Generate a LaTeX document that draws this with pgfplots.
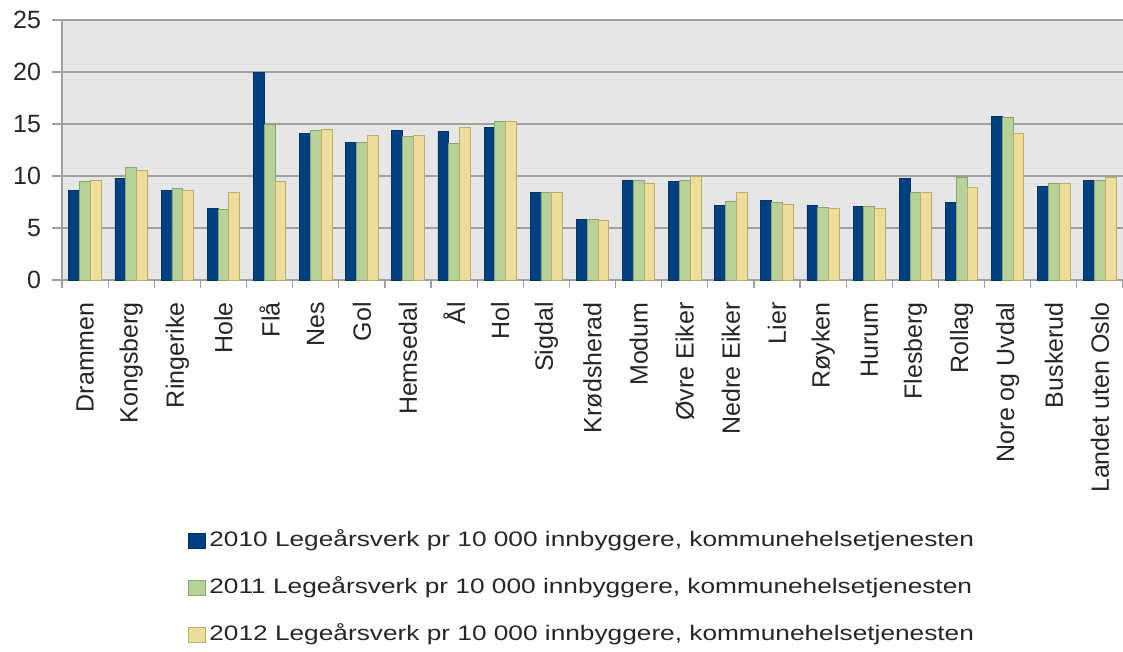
\documentclass[border=0pt]{standalone}
\usepackage{pgfplots}
\usepackage{pgfplotstable}
\usepackage{fontspec}
\setmainfont{Liberation Sans}
\newfontfamily\legfont[FakeStretch=1.25]{Liberation Sans}
\pgfplotsset{compat=1.18}
\definecolor{cblue}{RGB}{0,64,128}
\definecolor{cblueb}{RGB}{0,50,100}
\definecolor{cgreen}{RGB}{184,209,152}
\definecolor{cgreenb}{RGB}{140,165,110}
\definecolor{cyellow}{RGB}{236,222,154}
\definecolor{cyellowb}{RGB}{190,172,110}
\definecolor{cbg}{RGB}{230,230,230}
\definecolor{cgrid}{RGB}{160,160,160}
\pgfplotstableread{
x a b c
0 8.6 9.45 9.55
1 9.8 10.8 10.5
2 8.6 8.8 8.65
3 6.9 6.75 8.4
4 20.0 14.95 9.45
5 14.1 14.35 14.5
6 13.2 13.2 13.9
7 14.4 13.8 13.9
8 14.25 13.15 14.65
9 14.7 15.25 15.25
10 8.4 8.4 8.4
11 5.85 5.85 5.7
12 9.6 9.55 9.25
13 9.45 9.55 10.0
14 7.2 7.6 8.4
15 7.65 7.45 7.3
16 7.2 7.0 6.85
17 7.05 7.05 6.85
18 9.75 8.4 8.4
19 7.5 9.85 8.95
20 15.75 15.6 14.1
21 9.0 9.25 9.25
22 9.6 9.6 9.85
}\datatable
\begin{document}
\begin{tikzpicture}
\useasboundingbox (-31pt,-186pt) rectangle (530.5pt,140pt);
\begin{axis}[
  at={(0,0)}, anchor=south west,
  scale only axis, width=530.5pt, height=130pt,
  xmin=-0.5, xmax=22.5, ymin=0, ymax=25,
  axis background/.style={fill=cbg},
  axis lines*=left,
  axis line style={cgrid, line width=0.6pt},
  ybar=0pt, bar width=5.4pt,
  ytick={0,5,10,15,20,25},
  ymajorgrids, grid style={cgrid, line width=0.6pt},
  tick align=outside,
  major tick length=5pt,
  tick style={cgrid, line width=0.6pt},
  xtick={0,...,22},
  xticklabels={Drammen,Kongsberg,Ringerike,Hole,Flå,Nes,Gol,Hemsedal,Ål,Hol,Sigdal,Krødsherad,Modum,Øvre Eiker,Nedre Eiker,Lier,Røyken,Hurum,Flesberg,Rollag,Nore og Uvdal,Buskerud,Landet uten Oslo},
  x tick style={draw=none},
  minor xtick={-0.5,0.5,...,22.5},
  minor x tick style={draw=cgrid, line width=0.6pt},
  minor tick length=4pt,
  xticklabel style={rotate=90, anchor=east, inner sep=0pt, font=\fontsize{12.5}{14}\selectfont, text=black!85},
  xticklabel shift={6pt},
  yticklabel style={font=\fontsize{12.5}{14}\selectfont, text=black!85, xshift=-2pt},
  /pgf/number format/assume math mode=true,
  legend style={draw=none, fill=none, inner sep=0pt, at={(0.118,-0.95)}, anchor=north west,
    font=\legfont\fontsize{10.5}{12}\selectfont, text=black!85, row sep=10pt,
    nodes={text height=7.5pt, text depth=2pt, inner sep=2pt},
    legend cell align=left},
  legend image code/.code={\draw[#1,bar shift=0pt] (0pt,-3.6pt) rectangle (8.5pt,3.6pt);},
]
\addplot[fill=cblue, draw=cblueb, line width=0.4pt] table[x=x,y=a]{\datatable};
\addplot[fill=cgreen, draw=cgreenb, line width=0.4pt] table[x=x,y=b]{\datatable};
\addplot[fill=cyellow, draw=cyellowb, line width=0.4pt] table[x=x,y=c]{\datatable};
\legend{{2010 Legeårsverk pr 10 000 innbyggere, kommunehelsetjenesten},
{2011 Legeårsverk pr 10 000 innbyggere, kommunehelsetjenesten},
{2012 Legeårsverk pr 10 000 innbyggere, kommunehelsetjenesten}}
\end{axis}
\end{tikzpicture}
\end{document}
